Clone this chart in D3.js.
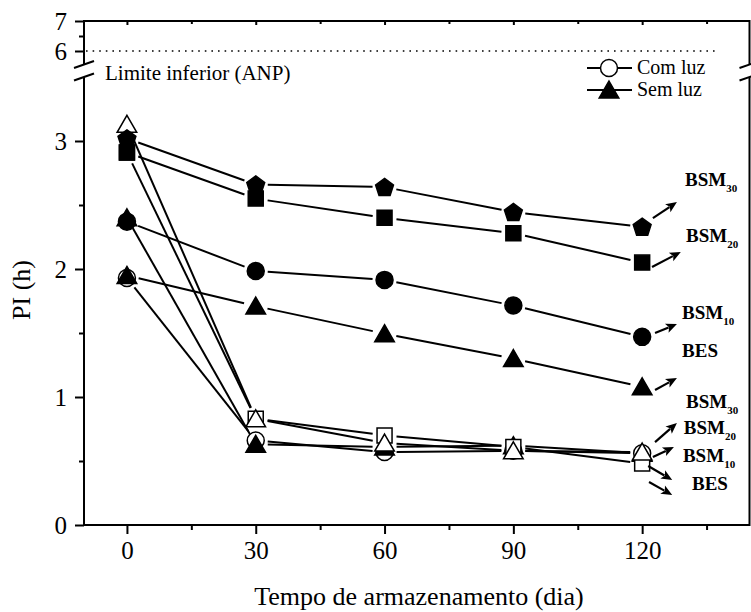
<!DOCTYPE html>
<html><head><meta charset="utf-8">
<script src="https://cdn.jsdelivr.net/npm/d3@7"></script>
<style>body{margin:0;background:#fff}</style>
</head><body><svg id="c" width="751" height="612"></svg>
<script>
// ---------- data ----------
const days = [0, 30, 60, 90, 120];
// Sem luz (upper, slowly decreasing)
const semBSM30 = [3.02, 2.66, 2.64, 2.445, 2.33];
const semBSM20 = [2.91, 2.55, 2.40, 2.28, 2.05];
const semBSM10 = [2.37, 1.985, 1.915, 1.715, 1.47];
const semBES   = [1.95, 1.71, 1.495, 1.30, 1.08];
// lower (fast decreasing) series
const comBSM30 = [3.13, 0.83, 0.64, 0.58, 0.57];
const comBSM20 = [2.91, 0.83, 0.70, 0.61, 0.48];
const comBSM10 = [2.40, 0.63, 0.61, 0.62, 0.56];
const comBES   = [1.93, 0.66, 0.57, 0.58, 0.56];
const limitANP = 6;
const xTicks = [0, 30, 60, 90, 120];
const xMinor = [15, 45, 75, 105, 135];
const yTicksLow = [0, 1, 2, 3];
const yMinorLow = [0.5, 1.5, 2.5];
const yTicksHigh = [6, 7];
const yMinorHigh = [6.5];
// annotation labels (data coordinates: day, value)
const labelNames = ["BSM30","BSM20","BSM10","BES","BSM30","BSM20","BSM10","BES"];
const labelDay   = [130.0, 130.2, 129.3, 129.3, 130.2, 129.7, 129.5, 131.6];
const labelVal   = [2.648, 2.211, 1.609, 1.3125, 0.914, 0.711, 0.492, 0.273];
const arrowFrom  = [[122.5,2.398],[122.3,2.016],[123.0,1.50],[123.0,1.055],[123.0,0.648],[122.5,0.531],[121.4,0.461],[121.6,0.336]];
const arrowTo    = [[128.1,2.523],[129.0,2.133],[128.1,1.570],[128.1,1.148],[128.1,0.797],[127.4,0.609],[127.0,0.352],[127.0,0.234]];

// ---------- scales ----------
const svg = d3.select("#c");
const FONT = "'Liberation Serif','Times New Roman',serif";
const L = 84, R = 749.5, B = 525, T = 21;
const x = d3.scaleLinear().domain([-10, 145]).range([L, R]);
const yLow = d3.scaleLinear().domain([0, 3.5]).range([B, 77]);
const yHigh = d3.scaleLinear().domain([5.55, 7]).range([64.5, T]);

// ---------- axes ----------
const styleAxis = g => {
  g.select(".domain").remove();
  g.selectAll("line").attr("stroke", "#000").attr("stroke-width", 2);
  g.selectAll("text").attr("font-family", FONT).attr("font-size", 25).attr("fill", "#000");
};
svg.append("g").attr("transform", `translate(0,${B})`)
  .call(d3.axisBottom(x).tickValues(xTicks).tickSize(9).tickPadding(7).tickFormat(d3.format("d"))).call(styleAxis);
svg.append("g").attr("transform", `translate(0,${B})`)
  .call(d3.axisBottom(x).tickValues(xMinor).tickSize(5).tickFormat("")).call(styleAxis);
svg.append("g").attr("transform", `translate(0,${T})`)
  .call(d3.axisBottom(x).tickValues(xTicks).tickSize(4).tickFormat("")).call(styleAxis);
svg.append("g").attr("transform", `translate(0,${T})`)
  .call(d3.axisBottom(x).tickValues(xMinor).tickSize(3).tickFormat("")).call(styleAxis);
svg.append("g").attr("transform", `translate(${L},0)`)
  .call(d3.axisLeft(yLow).tickValues(yTicksLow).tickSize(9).tickPadding(8).tickFormat(d3.format("d"))).call(styleAxis);
svg.append("g").attr("transform", `translate(${L},0)`)
  .call(d3.axisLeft(yLow).tickValues(yMinorLow).tickSize(5).tickFormat("")).call(styleAxis);
svg.append("g").attr("transform", `translate(${L},0)`)
  .call(d3.axisLeft(yHigh).tickValues(yTicksHigh).tickSize(9).tickPadding(8).tickFormat(d3.format("d"))).call(styleAxis);
svg.append("g").attr("transform", `translate(${L},0)`)
  .call(d3.axisLeft(yHigh).tickValues(yMinorHigh).tickSize(5).tickFormat("")).call(styleAxis);

// frame with breaks
const frame = svg.append("g").attr("stroke", "#000").attr("stroke-width", 2).attr("fill", "none");
const yb1 = yLow(3.5), yb2 = yHigh(5.55);
frame.append("line").attr("x1", L).attr("x2", R).attr("y1", B).attr("y2", B);
frame.append("line").attr("x1", L).attr("x2", R).attr("y1", T).attr("y2", T);
[L, R].forEach(xx => {
  frame.append("line").attr("x1", xx).attr("x2", xx).attr("y1", B + 1).attr("y2", yb1);
  frame.append("line").attr("x1", xx).attr("x2", xx).attr("y1", yb2).attr("y2", T - 1);
  // break slashes
  frame.append("line").attr("x1", xx - 10).attr("y1", yb1 + 3.5).attr("x2", xx + 10).attr("y2", yb1 - 3.5);
  frame.append("line").attr("x1", xx - 10).attr("y1", yb2 + 3.5).attr("x2", xx + 10).attr("y2", yb2 - 3.5);
});

// limit line
svg.append("line").attr("x1", L + 2).attr("x2", x(138)).attr("y1", yHigh(limitANP)).attr("y2", yHigh(limitANP))
  .attr("stroke", "#000").attr("stroke-width", 1.6).attr("stroke-dasharray", "1.6,5");
svg.append("text").attr("x", 105).attr("y", 80).attr("font-family", FONT).attr("font-size", 21)
  .text("Limite inferior (ANP)");

// ---------- markers ----------
function markerPath(type) {
  if (type === "circle") return d3.symbol(d3.symbolCircle, Math.PI * 8.5 * 8.5)();
  if (type === "square") return "M-7.5,-7.5H7.5V7.5H-7.5Z";
  if (type === "triangle") return "M0,-9L9.8,8L-9.8,8Z";
  if (type === "pentagon") {
    const r = 9.4, pts = [];
    for (let k = 0; k < 5; k++) { const a = -Math.PI / 2 + k * 2 * Math.PI / 5; pts.push([r * Math.cos(a), r * Math.sin(a) + 0.8]); }
    return "M" + pts.map(p => p.join(",")).join("L") + "Z";
  }
}
const series = [
  { v: comBES,   m: "circle",   fill: "#fff" },
  { v: comBSM10, m: "triangle", fill: "#000" },
  { v: comBSM20, m: "square",   fill: "#fff" },
  { v: comBSM30, m: "triangle", fill: "#fff" },
  { v: semBES,   m: "triangle", fill: "#000" },
  { v: semBSM10, m: "circle",   fill: "#000" },
  { v: semBSM20, m: "square",   fill: "#000" },
  { v: semBSM30, m: "pentagon", fill: "#000" }
];
const gap = 12;
const lineG = svg.append("g").attr("stroke", "#000").attr("stroke-width", 2);
series.forEach(s => {
  const pts = days.map((d, i) => [x(d), yLow(s.v[i])]);
  for (let i = 0; i < pts.length - 1; i++) {
    const [x1, y1] = pts[i], [x2, y2] = pts[i + 1];
    const dx = x2 - x1, dy = y2 - y1, len = Math.hypot(dx, dy);
    if (len < 2 * gap) continue;
    const ux = dx / len, uy = dy / len;
    lineG.append("line").attr("x1", x1 + ux * gap).attr("y1", y1 + uy * gap)
      .attr("x2", x2 - ux * gap).attr("y2", y2 - uy * gap);
  }
});
series.forEach(s => {
  svg.append("g").selectAll("path").data(days).join("path")
    .attr("d", markerPath(s.m))
    .attr("transform", (d, i) => `translate(${x(d)},${yLow(s.v[i])})`)
    .attr("fill", s.fill).attr("stroke", "#000").attr("stroke-width", 1.5);
});

// ---------- annotations ----------
const ann = svg.append("g");
arrowFrom.forEach((f, i) => {
  const x1 = x(f[0]), y1 = yLow(f[1]), x2 = x(arrowTo[i][0]), y2 = yLow(arrowTo[i][1]);
  const a = Math.atan2(y2 - y1, x2 - x1);
  const hl = 11, hw = 4.8;
  const bx = x2 - hl * Math.cos(a), by = y2 - hl * Math.sin(a);
  ann.append("line").attr("x1", x1).attr("y1", y1).attr("x2", bx + 2 * Math.cos(a)).attr("y2", by + 2 * Math.sin(a)).attr("stroke", "#000").attr("stroke-width", 2.2);
  ann.append("path").attr("d", `M${x2},${y2}L${bx - hw * Math.sin(a)},${by + hw * Math.cos(a)}L${bx + 2.5 * Math.cos(a)},${by + 2.5 * Math.sin(a)}L${bx + hw * Math.sin(a)},${by - hw * Math.cos(a)}Z`).attr("fill", "#000");
});
labelNames.forEach((n, i) => {
  const t = ann.append("text").attr("x", x(labelDay[i])).attr("y", yLow(labelVal[i]))
    .attr("font-family", FONT).attr("font-size", 19).attr("font-weight", "bold");
  const m = n.match(/^([A-Z]+)(\d*)$/);
  t.append("tspan").text(m[1]);
  if (m[2]) t.append("tspan").attr("font-size", 11).attr("dy", 6).text(m[2]);
});

// ---------- legend ----------
const lg = svg.append("g");
[["Com luz", "circle", "#fff", 68], ["Sem luz", "triangle", "#000", 90]].forEach(([txt, m, f, yy]) => {
  lg.append("line").attr("x1", 587).attr("x2", 632).attr("y1", yy).attr("y2", yy).attr("stroke", "#000").attr("stroke-width", 2);
  lg.append("path").attr("d", markerPath(m)).attr("transform", `translate(609,${yy})`).attr("fill", f).attr("stroke", "#000").attr("stroke-width", 1.5);
  lg.append("text").attr("x", 637).attr("y", yy + 6).attr("font-family", FONT).attr("font-size", 20).text(txt);
});

// ---------- titles ----------
svg.append("text").attr("x", 419).attr("y", 605).attr("text-anchor", "middle")
  .attr("font-family", FONT).attr("font-size", 26).text("Tempo de armazenamento (dia)");
svg.append("text").attr("transform", "translate(30,290) rotate(-90)").attr("text-anchor", "middle")
  .attr("font-family", FONT).attr("font-size", 26).text("PI (h)");
</script></body></html>
